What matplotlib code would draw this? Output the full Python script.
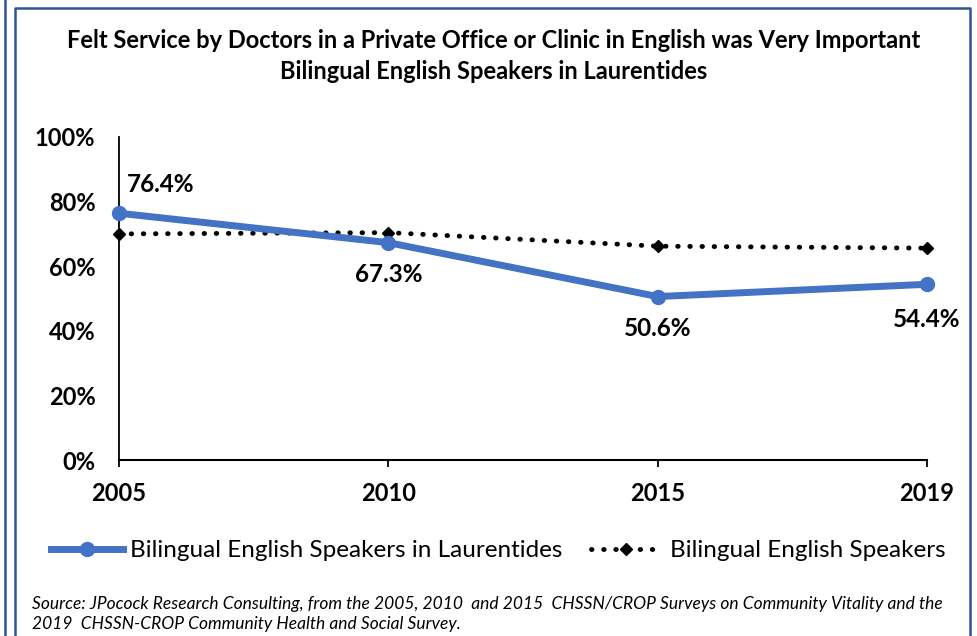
import matplotlib
matplotlib.use("Agg")

import matplotlib.pyplot as plt
from matplotlib.lines import Line2D

years = ["2005", "2010", "2015", "2019"]
laurentides = [0.764, 0.673, 0.506, 0.544]
all_bilingual = [0.700, 0.704, 0.662, 0.656]
label_laurentides = "Bilingual English Speakers in Laurentides"
label_all = "Bilingual English Speakers"
title = ("Felt Service by Doctors in a Private Office or Clinic in English was Very Important\n"
         "Bilingual English Speakers in Laurentides")
source = ("Source: JPocock Research Consulting, from the 2005, 2010  and 2015  CHSSN/CROP Surveys on Community Vitality and the\n"
          "2019  CHSSN-CROP Community Health and Social Survey.")

plt.rcParams["font.family"] = ["Lato", "DejaVu Sans"]

blue = "#4472C4"
frame_blue = "#2F5597"

fig = plt.figure(figsize=(9.77, 6.36), dpi=100)
ax = fig.add_axes([0.1218, 0.2767, 0.9488 - 0.1218, 0.7846 - 0.2767])

x = list(range(len(years)))
ax.plot(x, all_bilingual, color="black", lw=3.5, dashes=(0.1, 2.4),
        dash_capstyle="round", marker="D", markersize=6,
        label=label_all, zorder=2)
ax.plot(x, laurentides, color=blue, lw=5, marker="o", markersize=10,
        label=label_laurentides, zorder=3)

# data labels
offsets = [(6, 21, "left"), (0, -23, "center"), (0, -23, "center"), (0, -25, "center")]
for xi, v, (dx, dy, ha) in zip(x, laurentides, offsets):
    ax.annotate(f"{v * 100:.1f}%", (xi, v), xytext=(dx, dy),
                textcoords="offset points", ha=ha, va="center",
                fontsize=17.5, fontweight="bold")

ax.set_xlim(0, len(years) - 1)
ax.set_ylim(0, 1)
ax.set_xticks(x)
ax.set_xticklabels(years, fontsize=17, fontweight="bold")
ax.set_yticks([0, 0.2, 0.4, 0.6, 0.8, 1.0])
ax.set_yticklabels([f"{int(t * 100)}%" for t in [0, 0.2, 0.4, 0.6, 0.8, 1.0]],
                   fontsize=17, fontweight="bold")
ax.tick_params(axis="y", length=0, pad=17)
ax.tick_params(axis="x", length=5, width=1.3, direction="out", pad=11)
for s in ["top", "right"]:
    ax.spines[s].set_visible(False)
ax.spines["left"].set_linewidth(1.3)
ax.spines["bottom"].set_linewidth(1.5)
for line in ax.lines:
    line.set_clip_on(False)

fig.text(0.505, 0.912, title, ha="center", va="center", fontsize=17,
         fontweight="bold", linespacing=1.45)

handles = [
    Line2D([], [], color=blue, lw=5, marker="o", markersize=10),
    Line2D([], [], color="black", lw=3.5, dashes=(0.1, 2.4), dash_capstyle="round",
           marker="D", markersize=6),
]
fig.legend(handles, [label_laurentides, label_all], loc="center",
           bbox_to_anchor=(0.510, 0.134), ncol=2, frameon=False,
           fontsize=17.5, handlelength=2.95, handletextpad=0.3, columnspacing=1.15,
           borderpad=0.2)

fig.text(0.033, 0.0346, source, ha="left", va="center", fontsize=12.5,
         fontstyle="italic", linespacing=1.3)

# chart frame
fig.add_artist(Line2D([0.0154, 0.0154, 0.9928, 0.9928], [0.0, 0.9874, 0.9874, 0.0],
                      transform=fig.transFigure, color=frame_blue, lw=1.8))
fig.add_artist(Line2D([0.0056, 0.0056], [0.0, 1.0],
                      transform=fig.transFigure, color=frame_blue, lw=1.8))

fig.savefig("out.png", dpi=100)
plt.close(fig)
